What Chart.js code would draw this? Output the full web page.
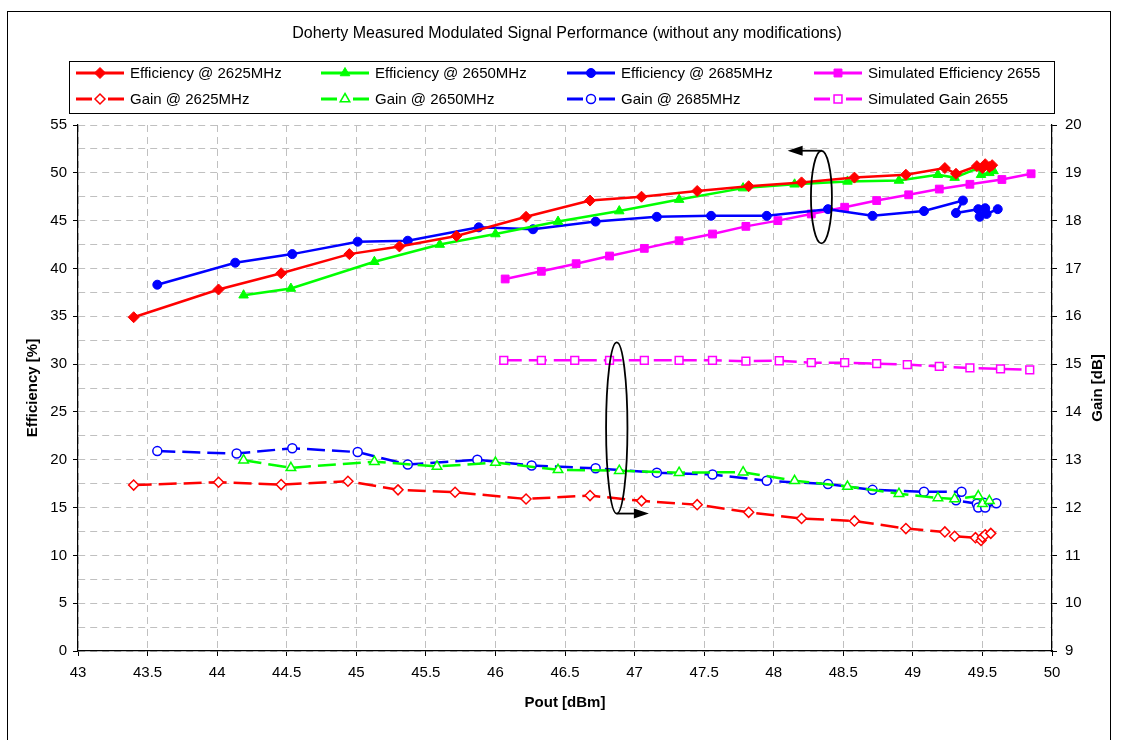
<!DOCTYPE html>
<html>
<head>
<meta charset="utf-8">
<script src="https://cdn.jsdelivr.net/npm/chart.js@4.4.1/dist/chart.umd.min.js"></script>
<style>
  html, body { margin: 0; padding: 0; background: #fff; }
  #wrap { width: 1122px; height: 740px; position: relative; }
</style>
</head>
<body>
<div id="wrap"><canvas id="c" width="1122" height="740"></canvas></div>
<script>
// ---- Measured efficiency [%] vs output power [dBm] ----
const eff2625Pout = [43.40, 44.01, 44.46, 44.95, 45.31, 45.72, 46.22, 46.68, 47.05, 47.45, 47.82, 48.20, 48.58, 48.95, 49.23, 49.31, 49.46, 49.50, 49.52, 49.55, 49.57];
const eff2625 =     [34.9, 37.8, 39.5, 41.5, 42.3, 43.4, 45.4, 47.1, 47.5, 48.1, 48.6, 49.0, 49.5, 49.8, 50.5, 49.9, 50.7, 50.5, 50.9, 50.6, 50.8];

const eff2650Pout = [44.19, 44.53, 45.13, 45.60, 46.00, 46.45, 46.89, 47.32, 47.78, 48.15, 48.53, 48.90, 49.18, 49.30, 49.47, 49.49, 49.55, 49.58];
const eff2650 =     [37.2, 37.9, 40.7, 42.5, 43.6, 44.9, 46.0, 47.2, 48.4, 48.8, 49.1, 49.2, 49.8, 49.5, 50.5, 49.8, 50.0, 50.2];

const eff2685Pout = [43.57, 44.13, 44.54, 45.01, 45.37, 45.88, 46.27, 46.72, 47.16, 47.55, 47.95, 48.39, 48.71, 49.08, 49.36, 49.31, 49.47, 49.48, 49.52, 49.53, 49.61];
const eff2685 =     [38.3, 40.6, 41.5, 42.8, 42.9, 44.3, 44.1, 44.9, 45.4, 45.5, 45.5, 46.2, 45.5, 46.0, 47.1, 45.8, 46.2, 45.4, 46.3, 45.7, 46.2];

const simEffPout = [46.07, 46.33, 46.58, 46.82, 47.07, 47.32, 47.56, 47.80, 48.03, 48.27, 48.51, 48.74, 48.97, 49.19, 49.41, 49.64, 49.85];
const simEff =     [38.9, 39.7, 40.5, 41.3, 42.1, 42.9, 43.6, 44.4, 45.0, 45.7, 46.4, 47.1, 47.7, 48.3, 48.8, 49.3, 49.9];

// ---- Measured gain [dB] vs output power [dBm] ----
const gain2625Pout = [43.40, 44.01, 44.46, 44.94, 45.30, 45.71, 46.22, 46.68, 47.05, 47.45, 47.82, 48.20, 48.58, 48.95, 49.23, 49.30, 49.45, 49.49, 49.50, 49.52, 49.56];
const gain2625 =     [12.47, 12.53, 12.48, 12.55, 12.37, 12.32, 12.18, 12.25, 12.14, 12.06, 11.90, 11.77, 11.72, 11.56, 11.49, 11.40, 11.37, 11.31, 11.38, 11.43, 11.46];

const gain2650Pout = [44.19, 44.53, 45.13, 45.58, 46.00, 46.45, 46.89, 47.32, 47.78, 48.15, 48.53, 48.90, 49.18, 49.30, 49.47, 49.50, 49.55];
const gain2650 =     [12.99, 12.83, 12.96, 12.86, 12.94, 12.79, 12.77, 12.73, 12.74, 12.56, 12.44, 12.29, 12.20, 12.18, 12.24, 12.08, 12.14];

const gain2685Pout = [43.57, 44.14, 44.54, 45.01, 45.37, 45.87, 46.26, 46.72, 47.16, 47.56, 47.95, 48.39, 48.71, 49.08, 49.35, 49.31, 49.46, 49.47, 49.51, 49.52, 49.60];
const gain2685 =     [13.18, 13.13, 13.24, 13.16, 12.90, 13.00, 12.88, 12.82, 12.73, 12.69, 12.56, 12.49, 12.37, 12.33, 12.33, 12.15, 12.08, 12.00, 12.10, 12.00, 12.09];

const simGainPout = [46.06, 46.33, 46.57, 46.82, 47.07, 47.32, 47.56, 47.80, 48.04, 48.27, 48.51, 48.74, 48.96, 49.19, 49.41, 49.63, 49.84];
const simGain =     [15.08, 15.08, 15.08, 15.08, 15.08, 15.08, 15.08, 15.06, 15.07, 15.03, 15.03, 15.01, 14.99, 14.95, 14.92, 14.90, 14.88];

// ---- Axis ranges and labels ----
const poutRange = [43, 50];
const effRange = [0, 55];
const gainRange = [9, 20];
const titleText = 'Doherty Measured Modulated Signal Performance (without any modifications)';
const xTitle = 'Pout [dBm]';
const effTitle = 'Efficiency [%]';
const gainTitle = 'Gain [dB]';

const FONT = '"Liberation Sans", Arial, sans-serif';
const RED = '#ff0000', GREEN = '#00ff00', BLUE = '#0000ff', MAGENTA = '#ff00ff';
const DASH = [18, 7];

const zip = (xs, ys) => xs.map((x, i) => ({ x, y: ys[i] }));

function effSet(label, xs, ys, color, style, radius) {
  return {
    label, data: zip(xs, ys), yAxisID: 'yE',
    borderColor: color, backgroundColor: color, borderWidth: 2.5,
    pointStyle: style, pointRadius: radius, pointBackgroundColor: color,
    pointBorderColor: color, pointBorderWidth: 1, tension: 0
  };
}
function gainSet(label, xs, ys, color, style, radius) {
  return {
    label, data: zip(xs, ys), yAxisID: 'yG',
    borderColor: color, backgroundColor: '#fff', borderWidth: 2.5, borderDash: DASH,
    pointStyle: style, pointRadius: radius, pointBackgroundColor: '#fff',
    pointBorderColor: color, pointBorderWidth: 1.5, tension: 0
  };
}

const datasets = [
  effSet('Efficiency @ 2625MHz', eff2625Pout, eff2625, RED, 'rectRot', 5.5),
  effSet('Efficiency @ 2650MHz', eff2650Pout, eff2650, GREEN, 'triangle', 5.5),
  effSet('Efficiency @ 2685MHz', eff2685Pout, eff2685, BLUE, 'circle', 4.5),
  effSet('Simulated Efficiency 2655', simEffPout, simEff, MAGENTA, 'rect', 5.5),
  gainSet('Gain @ 2625MHz', gain2625Pout, gain2625, RED, 'rectRot', 5),
  gainSet('Gain @ 2650MHz', gain2650Pout, gain2650, GREEN, 'triangle', 5.5),
  gainSet('Gain @ 2685MHz', gain2685Pout, gain2685, BLUE, 'circle', 4.5),
  gainSet('Simulated Gain 2655', simGainPout, simGain, MAGENTA, 'rect', 5.5)
];

// Ellipse call-outs (data units) pointing each group to its axis
const callouts = [
  { x: 48.343, y: 47.47, rx: 0.0754, ry: 4.84, arrowToX: 48.10, side: 'top' },
  { x: 46.872, y: 23.32, rx: 0.0768, ry: 8.95, arrowToX: 47.103, side: 'bottom' }
];

function drawMarker(ctx, style, x, y, r, fill, stroke, lw) {
  ctx.save();
  ctx.lineWidth = lw; ctx.fillStyle = fill; ctx.strokeStyle = stroke;
  ctx.setLineDash([]);
  ctx.beginPath();
  if (style === 'circle') {
    ctx.arc(x, y, r, 0, Math.PI * 2);
  } else if (style === 'rectRot') {
    ctx.moveTo(x, y - r); ctx.lineTo(x + r, y); ctx.lineTo(x, y + r); ctx.lineTo(x - r, y);
  } else if (style === 'rect') {
    const h = r * 0.72;
    ctx.rect(x - h, y - h, 2 * h, 2 * h);
  } else if (style === 'triangle') {
    ctx.moveTo(x, y - r); ctx.lineTo(x + r * 0.87, y + r * 0.5); ctx.lineTo(x - r * 0.87, y + r * 0.5);
  }
  ctx.closePath();
  ctx.fill(); ctx.stroke();
  ctx.restore();
}

const decorPlugin = {
  id: 'decor',
  beforeDraw(chart) {
    const ctx = chart.ctx;
    ctx.save();
    ctx.fillStyle = '#fff';
    ctx.fillRect(0, 0, chart.width, chart.height);
    ctx.restore();
  },
  afterDraw(chart) {
    const ctx = chart.ctx;
    const xs = chart.scales.x, ye = chart.scales.yE;

    // outer frame
    ctx.save();
    ctx.strokeStyle = '#000'; ctx.lineWidth = 1;
    ctx.strokeRect(7.5, 11.5, 1103, 740);

    // title
    ctx.fillStyle = '#000';
    ctx.font = '16px ' + FONT;
    ctx.textAlign = 'center'; ctx.textBaseline = 'middle';
    ctx.fillText(titleText, (chart.chartArea.left + chart.chartArea.right) / 2 + 2, 34);

    // right axis title, reading bottom to top
    ctx.save();
    ctx.translate(1098, (chart.chartArea.top + chart.chartArea.bottom) / 2);
    ctx.rotate(-Math.PI / 2);
    ctx.font = 'bold 15px ' + FONT;
    ctx.fillText(gainTitle, 0, 0);
    ctx.restore();

    // legend box
    ctx.fillStyle = '#fff';
    ctx.fillRect(69, 61, 985, 52);
    ctx.strokeStyle = '#000'; ctx.lineWidth = 1;
    ctx.strokeRect(69.5, 61.5, 985, 52);
    const colX = [76, 321, 567, 814];
    const rowY = [73, 99];
    chart.data.datasets.forEach((ds, i) => {
      const col = i % 4, row = Math.floor(i / 4);
      const x0 = colX[col], y0 = rowY[row];
      ctx.save();
      ctx.strokeStyle = ds.borderColor; ctx.lineWidth = 3;
      ctx.setLineDash(ds.borderDash ? [16, 16] : []);
      ctx.beginPath(); ctx.moveTo(x0, y0); ctx.lineTo(x0 + 48, y0); ctx.stroke();
      ctx.restore();
      drawMarker(ctx, ds.pointStyle, x0 + 24, y0, ds.pointRadius, ds.pointBackgroundColor, ds.pointBorderColor, ds.pointBorderWidth);
      ctx.fillStyle = '#000';
      ctx.font = '15px ' + FONT;
      ctx.textAlign = 'left'; ctx.textBaseline = 'middle';
      ctx.fillText(ds.label, x0 + 54, y0 + 1);
    });

    // call-out ellipses with arrows
    ctx.strokeStyle = '#000'; ctx.fillStyle = '#000'; ctx.lineWidth = 1.8;
    callouts.forEach(c => {
      const cx = xs.getPixelForValue(c.x), cy = ye.getPixelForValue(c.y);
      const rx = xs.getPixelForValue(c.x + c.rx) - cx;
      const ry = cy - ye.getPixelForValue(c.y + c.ry);
      ctx.beginPath(); ctx.ellipse(cx, cy, rx, ry, 0, 0, Math.PI * 2); ctx.stroke();
      const ay = c.side === 'top' ? cy - ry : cy + ry;
      const tip = xs.getPixelForValue(c.arrowToX);
      const dir = Math.sign(tip - cx);
      ctx.beginPath(); ctx.moveTo(cx, ay); ctx.lineTo(tip - dir * 12, ay); ctx.stroke();
      ctx.beginPath();
      ctx.moveTo(tip, ay); ctx.lineTo(tip - dir * 15, ay - 5); ctx.lineTo(tip - dir * 15, ay + 5);
      ctx.closePath(); ctx.fill();
    });
    ctx.restore();
  }
};

const tickFont = { family: FONT, size: 15 };

new Chart(document.getElementById('c'), {
  type: 'line',
  data: { datasets },
  plugins: [decorPlugin],
  options: {
    responsive: false,
    animation: false,
    devicePixelRatio: 1,
    layout: { padding: { top: 125, left: 0, right: 0, bottom: 0 } },
    plugins: { legend: { display: false }, title: { display: false }, tooltip: { enabled: false } },
    scales: {
      x: {
        type: 'linear', position: 'bottom', min: poutRange[0], max: poutRange[1],
        ticks: { stepSize: 0.5, autoSkip: false, maxRotation: 0, color: '#000', font: tickFont, padding: 8,
                 callback: v => String(v) },
        grid: { color: '#c0c0c0', lineWidth: 1, tickColor: '#000', tickLength: 5 },
        border: { color: '#000', width: 1.2, dash: [7, 5] },
        title: { display: true, text: xTitle, color: '#000', font: { family: FONT, size: 15, weight: 'bold' },
                 padding: { top: 0, bottom: 28 } },
        afterFit(s) { s.height = 89; }
      },
      yE: {
        type: 'linear', position: 'left', min: effRange[0], max: effRange[1],
        ticks: { stepSize: 2.5, autoSkip: false, color: '#000', font: tickFont, padding: 6,
                 callback: v => (Math.abs(v % 5) < 1e-6 ? String(v) : '') },
        grid: { color: '#c0c0c0', lineWidth: 1, tickLength: 5,
                tickColor: ctx => (ctx.tick && Math.abs(ctx.tick.value % 5) < 1e-6 ? '#000' : 'rgba(0,0,0,0)') },
        border: { color: '#000', width: 1.2, dash: [7, 5] },
        title: { display: true, text: effTitle, color: '#000', font: { family: FONT, size: 15, weight: 'bold' },
                 padding: { top: 24, bottom: 0 } },
        afterFit(s) { s.width = 78; }
      },
      yG: {
        type: 'linear', position: 'right', min: gainRange[0], max: gainRange[1],
        ticks: { stepSize: 1, autoSkip: false, color: '#000', font: tickFont, padding: 8 },
        grid: { drawOnChartArea: false, tickColor: '#000', tickLength: 5 },
        border: { color: '#000', width: 1.2 },
        afterFit(s) { s.width = 70; }
      }
    }
  }
});
</script>
</body>
</html>
